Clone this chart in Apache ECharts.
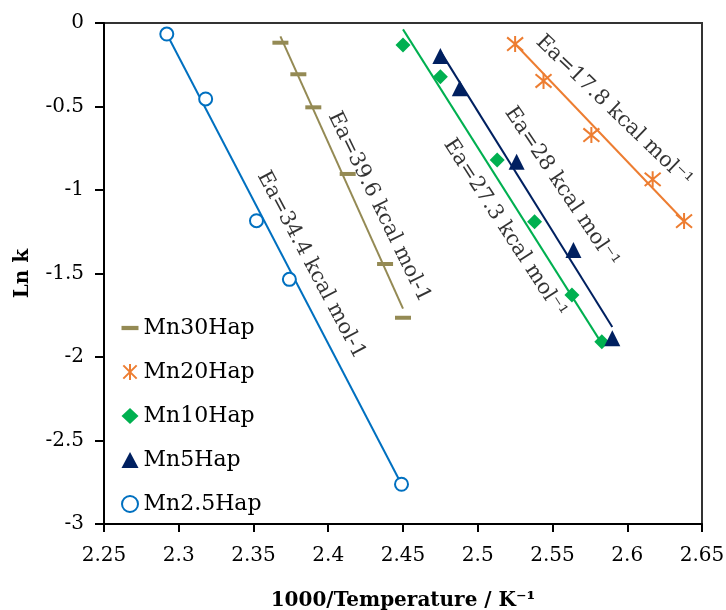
<!DOCTYPE html>
<html>
<head>
<meta charset="utf-8">
<script src="https://cdn.jsdelivr.net/npm/echarts@6/dist/echarts.min.js"></script>
<style>html,body{margin:0;padding:0;background:#fff}#c{width:726px;height:610px}</style>
</head>
<body>
<div id="c"></div>
<script>
// ---- data ----
const xTicks = [2.25, 2.3, 2.35, 2.4, 2.45, 2.5, 2.55, 2.6, 2.65];
const yTicks = [0, -0.5, -1, -1.5, -2, -2.5, -3];

const seriesNames = ['Mn30Hap', 'Mn20Hap', 'Mn10Hap', 'Mn5Hap', 'Mn2.5Hap'];

const mn30X = [2.368, 2.380, 2.390, 2.413, 2.438, 2.450];
const mn30Y = [-0.118, -0.307, -0.505, -0.904, -1.443, -1.765];
const mn20X = [2.525, 2.544, 2.576, 2.617, 2.638];
const mn20Y = [-0.126, -0.347, -0.671, -0.936, -1.186];
const mn10X = [2.450, 2.475, 2.513, 2.538, 2.563, 2.583];
const mn10Y = [-0.132, -0.322, -0.820, -1.190, -1.629, -1.908];
const mn5X = [2.475, 2.488, 2.526, 2.564, 2.590];
const mn5Y = [-0.198, -0.391, -0.831, -1.359, -1.888];
const mn25X = [2.292, 2.318, 2.352, 2.374, 2.449];
const mn25Y = [-0.066, -0.455, -1.184, -1.535, -2.762];

// trend line end points
const fit30X = [2.368, 2.450], fit30Y = [-0.08, -1.71];
const fit20X = [2.525, 2.638], fit20Y = [-0.126, -1.186];
const fit10X = [2.450, 2.583], fit10Y = [-0.038, -1.92];
const fit5X = [2.475, 2.590], fit5Y = [-0.17, -1.82];
const fit25X = [2.292, 2.449], fit25Y = [-0.066, -2.762];

// annotations
const annText = ['Ea=34.4 kcal mol-1', 'Ea=39.6 kcal mol-1', 'Ea=27.3 kcal mol\u207B\u00B9', 'Ea=28 kcal mol\u207B\u00B9', 'Ea=17.8 kcal mol\u207B\u00B9'];
const annX = [2.3885, 2.434, 2.518, 2.556, 2.591];
const annY = [-1.449, -1.102, -1.228, -0.982, -0.527];
const annAngle = [-62, -64, -57, -56, -44];

// ---- styling ----
const FONT = 'DejaVu Serif';
const colors = ['#948A54', '#ED7D31', '#00B050', '#002060', '#0070C0'];
const zip = (xs, ys) => xs.map((x, i) => [x, ys[i]]);

const starPath = 'path://M0,0L10,10M10,0L0,10M5,-1L5,11';
const dashPath = 'path://M0,0L16,0L16,4L0,4Z';

const pts = [[mn30X, mn30Y], [mn20X, mn20Y], [mn10X, mn10Y], [mn5X, mn5Y], [mn25X, mn25Y]];
const fits = [[fit30X, fit30Y], [fit20X, fit20Y], [fit10X, fit10Y], [fit5X, fit5Y], [fit25X, fit25Y]];

const markerStyles = [
  { symbol: 'rect', symbolSize: [16, 4], itemStyle: { color: colors[0], opacity: 1 } },
  { symbol: starPath, symbolSize: 16, itemStyle: { color: 'rgba(0,0,0,0)', borderColor: colors[1], borderWidth: 2, opacity: 1 } },
  { symbol: 'diamond', symbolSize: 15, itemStyle: { color: colors[2], opacity: 1 } },
  { symbol: 'triangle', symbolSize: 16, itemStyle: { color: colors[3], opacity: 1 } },
  { symbol: 'emptyCircle', symbolSize: 13, itemStyle: { color: colors[4], borderColor: colors[4], borderWidth: 2, opacity: 1 } }
];
const legendIcons = [dashPath, starPath, 'diamond', 'triangle', 'emptyCircle'];

const series = [];
// trend lines
fits.forEach((f, i) => {
  series.push({
    type: 'line', name: 'fit' + i, data: zip(f[0], f[1]), showSymbol: false, symbol: 'none',
    lineStyle: { color: colors[i], width: 2 }, z: 2, silent: true
  });
});
// points
pts.forEach((p, i) => {
  series.push(Object.assign({
    type: 'scatter', name: seriesNames[i], data: zip(p[0], p[1]), z: 3
  }, markerStyles[i]));
});
// annotations
series.push({
  type: 'scatter', name: 'ann', symbolSize: 0, z: 4, silent: true,
  data: annText.map((t, i) => ({
    value: [annX[i], annY[i]],
    label: { show: true, formatter: t, rotate: annAngle[i], position: 'inside',
             fontFamily: FONT, fontSize: 21, color: '#000' }
  }))
});

const chart = echarts.init(document.getElementById('c'), null, { renderer: 'canvas' });
chart.setOption({
  animation: false,
  backgroundColor: '#fff',
  grid: { left: 104, top: 23, right: 24, bottom: 86, show: true, borderColor: '#333', borderWidth: 2,
          containLabel: false, outerBoundsMode: 'none' },
  legend: {
    data: seriesNames.map((n, i) => ({ name: n, icon: legendIcons[i] })),
    orient: 'vertical', left: 116, top: 312,
    itemWidth: 17, itemHeight: 16, itemGap: 22,
    textStyle: { fontFamily: FONT, fontSize: 22, color: '#000' }
  },
  xAxis: {
    type: 'value', min: xTicks[0], max: xTicks[xTicks.length - 1], interval: 0.05,
    name: '1000/Temperature / K\u207B\u00B9', nameLocation: 'middle', nameGap: 67,
    nameTextStyle: { fontFamily: FONT, fontSize: 20, fontWeight: 'bold', color: '#000' },
    axisLine: { onZero: false, lineStyle: { color: '#000', width: 2 } },
    axisTick: { show: true, length: 8, lineStyle: { color: '#000', width: 2 } },
    axisLabel: { fontFamily: FONT, fontSize: 20, color: '#000', margin: 22 },
    splitLine: { show: false }
  },
  yAxis: {
    type: 'value', min: yTicks[yTicks.length - 1], max: yTicks[0], interval: 0.5,
    name: 'Ln k', nameLocation: 'middle', nameGap: 71, nameRotate: 90,
    nameTextStyle: { fontFamily: FONT, fontSize: 20, fontWeight: 'bold', color: '#000' },
    axisLine: { onZero: false, lineStyle: { color: '#000', width: 2 } },
    axisTick: { show: true, length: 9, lineStyle: { color: '#000', width: 2 } },
    axisLabel: { fontFamily: FONT, fontSize: 20, color: '#000', margin: 20 },
    splitLine: { show: false }
  },
  series: series
});
</script>
</body>
</html>
